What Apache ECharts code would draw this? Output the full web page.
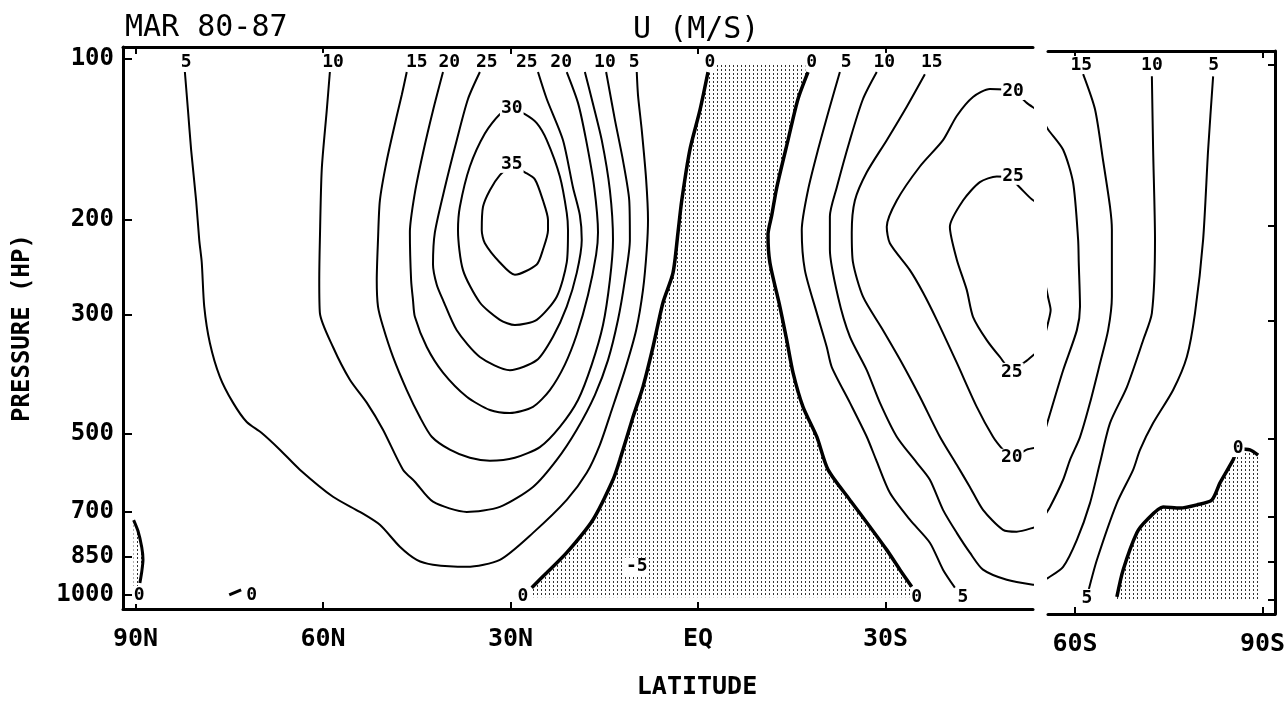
<!DOCTYPE html>
<html><head><meta charset="utf-8">
<script src="https://cdn.jsdelivr.net/npm/echarts@6/dist/echarts.min.js"></script>
<style>html,body{margin:0;padding:0;background:#fff}#c{width:1285px;height:702px}</style>
</head><body><div id="c"></div>
<script>
// ---------- DATA (latitude: +N / -S, pressure in hPa) ----------
const latTicksLeft = [90, 60, 30, 0, -30];
const latTicksRight = [-60, -90];
const pressureTicks = [100, 200, 300, 500, 700, 850, 1000];

// Northern hemisphere jet contours (m/s)
const u5N = [[82.1,106],[81.6,125],[81.1,148],[80.3,184],[79.8,218],[79.4,240],[79.0,290],[78.1,339],[76.5,392],[74.4,438],[72.2,476],[69.8,499],[66.9,536],[63.7,584],[58.4,656],[54.1,700],[50.9,740],[47.7,813],[45.0,860],[42.4,878],[37.0,886],[31.7,860],[26.4,766],[21.0,665],[17.8,592],[15.7,525],[13.8,452],[11.7,381],[9.9,321],[8.8,270],[8.2,227],[8.0,200],[8.3,168],[9.0,136],[9.6,117],[9.8,106]];
const u10N = [[58.9,106],[59.4,125],[60.2,161],[60.5,218],[60.6,259],[60.5,298],[58.4,345],[55.7,397],[53.0,438],[50.4,492],[47.2,584],[45.3,615],[42.4,670],[37.0,700],[31.7,685],[26.4,629],[22.6,560],[19.4,492],[16.5,424],[14.4,365],[12.8,307],[11.7,259],[10.9,218],[11.0,184],[12.0,155],[13.3,130],[14.2,114],[14.7,106]];
const u15N = [[46.6,106],[47.4,117],[48.2,128],[49.8,155],[50.9,184],[51.2,218],[51.4,259],[51.2,290],[50.4,316],[48.8,360],[46.6,415],[44.5,466],[42.6,507],[39.7,536],[36.5,555],[33.3,562],[29.3,555],[25.3,530],[22.1,486],[19.2,433],[17.0,372],[15.2,314],[14.1,259],[13.6,218],[14.1,176],[15.4,142],[17.0,119],[18.1,106]];
const u20N = [[40.8,106],[42.4,125],[44.0,150],[45.3,178],[46.1,211],[45.9,259],[45.6,282],[45.3,303],[43.4,345],[40.8,385],[37.0,427],[33.3,452],[30.1,458],[26.4,446],[23.7,415],[21.3,372],[19.4,327],[17.6,276],[16.3,232],[16.0,211],[16.6,174],[17.9,142],[19.2,121],[21.0,106]];
const u25N = [[34.9,106],[36.8,119],[38.6,142],[40.5,174],[42.1,211],[42.4,242],[41.8,264],[40.8,282],[38.6,321],[34.9,360],[30.1,381],[25.8,365],[23.2,330],[21.0,290],[19.4,251],[18.6,218],[18.9,196],[20.0,174],[21.6,142],[24.2,119],[25.6,106]];
const u30N = [[29.8,124],[31.7,127],[34.1,138],[36.5,159],[38.1,189],[38.4,209],[37.6,248],[34.9,285],[31.7,307],[29.3,314],[25.8,307],[22.6,278],[21.0,240],[20.8,209],[21.0,194],[22.1,166],[24.2,142],[25.8,132],[27.7,127],[29.8,124]];
const u35N = [[29.8,158],[31.7,165],[33.3,176],[34.4,189],[34.6,209],[34.1,221],[31.7,240],[29.3,253],[25.8,242],[24.8,227],[24.0,209],[24.0,200],[24.8,184],[26.1,168],[27.7,163],[29.8,158]];

// zero lines (easterly region between them)
const u0North = [[-1.6,106],[-0.3,125],[1.3,148],[2.6,184],[3.2,211],[4.0,251],[5.6,285],[7.2,345],[8.8,409],[10.4,466],[12.5,560],[13.6,610],[16.8,724],[21.0,834],[24.2,909],[26.6,969]];
const u0South = [[-17.6,106],[-16.0,119],[-14.4,142],[-12.6,174],[-11.8,196],[-11.2,213],[-11.5,240],[-13.1,290],[-14.2,335],[-15.2,385],[-16.8,446],[-19.0,507],[-20.8,584],[-24.3,665],[-27.5,746],[-30.2,824],[-32.3,897],[-34.2,965]];
const u0Pole = [[90.3,725],[89.6,760],[89.0,815],[88.8,860],[89.0,905],[89.3,950]];
const u0Arctic = [[75.0,1000],[73.1,978]];

// Southern hemisphere contours, left panel
const u5S = [[-22.7,106],[-21.1,123],[-19.2,148],[-17.6,176],[-16.6,209],[-17.1,248],[-19.0,298],[-20.6,345],[-21.4,376],[-24.3,438],[-27.0,507],[-28.5,560],[-30.7,645],[-33.9,724],[-37.1,799],[-39.2,897],[-41.1,969]];
const u10S = [[-28.6,106],[-26.4,119],[-24.3,142],[-22.2,174],[-21.1,197],[-21.1,227],[-22.4,278],[-24.3,330],[-27.0,381],[-29.1,438],[-31.8,507],[-34.9,565],[-37.1,610],[-39.2,694],[-41.4,766],[-43.5,834],[-45.6,897],[-49.4,937],[-53.6,957],[-55.5,960]];
const u15S = [[-36.3,107],[-33.4,123],[-30.2,142],[-27.0,163],[-25.1,184],[-24.6,211],[-24.8,240],[-26.4,278],[-29.6,321],[-32.6,369],[-35.5,427],[-38.7,507],[-41.4,572],[-43.5,629],[-45.6,694],[-48.8,756],[-51.0,762],[-54.2,746],[-55.5,740]];
const u20S = [[-55.5,129],[-54.7,126],[-52.6,121],[-50.4,115],[-46.7,114],[-44.0,118],[-41.4,128],[-39.2,142],[-35.5,159],[-31.8,184],[-30.2,206],[-30.7,221],[-33.9,248],[-36.0,273],[-38.2,307],[-41.4,369],[-44.6,446],[-47.2,507],[-48.8,536],[-50.2,555],[-52.6,536],[-54.7,530],[-55.5,528]];
const u25S = [[-55.5,190],[-54.7,187],[-53.4,183],[-51.5,174],[-49.9,167],[-47.8,166],[-45.1,170],[-42.4,184],[-40.3,206],[-41.4,237],[-43.0,270],[-44.0,303],[-46.2,335],[-48.3,360],[-50.2,381],[-52.3,368],[-54.7,349],[-55.5,345]];

// right panel (high southern latitudes)
const r20S = [[-54.9,127],[-55.7,132],[-58.1,144],[-59.7,166],[-60.5,212],[-60.6,234],[-60.8,283],[-60.3,313],[-58.1,372],[-55.7,461],[-54.9,496]];
const r25S = [[-54.9,245],[-55.7,272],[-56.1,287],[-55.7,303],[-54.9,330]];
const r15S = [[-61.3,104],[-63.2,121],[-64.5,151],[-65.6,184],[-65.9,203],[-65.9,271],[-65.3,313],[-64.0,361],[-62.4,428],[-60.8,496],[-59.2,547],[-58.1,596],[-56.0,670],[-54.9,702]];
const r10S = [[-72.3,105],[-72.5,144],[-72.8,212],[-72.3,291],[-70.9,327],[-68.3,400],[-65.6,467],[-64.0,554],[-62.4,659],[-60.3,772],[-58.1,867],[-55.7,909],[-54.9,917]];
const r5S = [[-82.1,105],[-81.3,144],[-80.5,212],[-79.2,291],[-77.9,351],[-75.7,405],[-72.5,467],[-70.4,524],[-69.3,571],[-66.7,659],[-63.5,842],[-62.1,966]];
const r0S = [[-66.7,987],[-67.7,879],[-69.9,749],[-71.5,709],[-74.1,670],[-76.8,673],[-79.5,664],[-81.9,650],[-83.2,604],[-85.3,547],[-86.1,522],[-88.0,524],[-89.3,536]];

// contour labels [text, lat, pressure]
const labelsLeft = [
  ['5',81.9,101.5],['10',58.4,101.5],['15',45.0,101.5],['20',39.8,101.5],['25',33.8,101.5],
  ['25',27.4,101.5],['20',21.9,101.5],['10',14.9,101.5],['5',10.2,101.5],['0',-1.9,101.5],
  ['0',-18.2,101.5],['5',-23.7,101.5],['10',-29.8,101.5],['15',-37.4,101.5],
  ['30',29.8,123.7],['35',29.8,157.2],['20',-50.4,115],['25',-50.4,165.5],['25',-50.2,383.8],
  ['20',-50.2,555],['-5',9.8,886],
  ['0',89.4,1000],['0',71.4,1000],['0',28.0,1004],['0',-35.0,1008],['5',-42.4,1008]
];
const labelsRight = [['15',-61.0,100],['10',-72.3,100],['5',-82.2,100],['0',-86.1,520],['5',-61.9,991]];

// ---------- CHART ----------
const FONT = 'DejaVu Sans Mono';
const stippleCanvas = (function(){
  const c = document.createElement('canvas'); c.width = 4; c.height = 4;
  const g = c.getContext('2d'); g.fillStyle = '#333'; g.fillRect(1,1,1,2);
  return c;
})();

function lineS(data, xi, yi, w){
  return {type:'line', xAxisIndex:xi, yAxisIndex:yi, data:data, showSymbol:false, symbol:'none',
    smooth:0.25, lineStyle:{color:'#000', width:w}, silent:true, z:2, animation:false};
}
function polyS(pts, xi, yi){
  return {type:'custom', xAxisIndex:xi, yAxisIndex:yi, data:[pts[0]], silent:true, z:1, animation:false,
    renderItem:function(params, api){
      return {type:'polygon', shape:{points: pts.map(function(p){return api.coord(p);})},
        style:{fill:{image:stippleCanvas, repeat:'repeat'}, stroke:null}};
    }};
}
function labelS(list, xi, yi){
  return {type:'custom', xAxisIndex:xi, yAxisIndex:yi, silent:true, z:5, animation:false,
    data:list.map(function(l){return [l[1], l[2]];}),
    renderItem:function(params, api){
      const pt = api.coord([api.value(0), api.value(1)]);
      return {type:'text', x:pt[0], y:pt[1],
        style:{text:list[params.dataIndex][0], fill:'#000', fontFamily:FONT, fontWeight:'bold', fontSize:18,
          align:'center', verticalAlign:'middle', backgroundColor:'#fff', padding:[0,1]}};
    }};
}

const polyEq = u0North.concat([[26.6,1010],[-34.2,1010]], u0South.slice().reverse(), [[-17.6,102],[-1.6,102]]);
const polyPole = u0Pole.concat([[89.3,1000],[90.3,1000]]);
const polySouth = r0S.concat([[-89.3,1000],[-66.7,1000]]);

const fmtLat = function(v){ return v === 0 ? 'EQ' : Math.abs(v) + (v > 0 ? 'N' : 'S'); };
const axLine = {onZero:false, lineStyle:{color:'#000', width:3}};
function xAx(grid, pos, min, max, ticks, showLabel){
  return {gridIndex:grid, type:'value', position:pos, inverse:true, min:min, max:max,
    axisLine:axLine,
    axisTick:{show:true, inside:true, length:7, customValues:ticks, lineStyle:{color:'#000', width:2}},
    axisLabel:{show:showLabel, customValues:ticks, formatter:fmtLat, color:'#000', fontFamily:FONT, fontWeight:'bold', fontSize:25, margin:18},
    splitLine:{show:false}};
}

const chart = echarts.init(document.getElementById('c'), null, {renderer:'canvas'});
chart.setOption({
  animation:false,
  backgroundColor:'#fff',
  grid:[
    {left:123, top:47, width:910, height:562, outerBoundsMode:'none', containLabel:false},
    {left:1048, top:51, width:227, height:563, outerBoundsMode:'none', containLabel:false}
  ],
  xAxis:[
    xAx(0,'bottom',-53.6,92,latTicksLeft,true),
    xAx(0,'top',-53.6,92,latTicksLeft,false),
    xAx(1,'bottom',-92,-55.68,latTicksRight,true),
    xAx(1,'top',-92,-55.68,latTicksRight,false)
  ],
  yAxis:[
    {gridIndex:0, type:'log', inverse:true, min:95.2, max:1062, position:'left', axisLine:axLine,
     axisTick:{inside:true, length:9, customValues:pressureTicks, lineStyle:{color:'#000', width:2}},
     axisLabel:{customValues:pressureTicks, formatter:function(v){return String(Math.round(v));}, color:'#000', fontFamily:FONT, fontWeight:'bold', fontSize:24, margin:9},
     splitLine:{show:false}},
    {gridIndex:1, type:'log', inverse:true, min:94.15, max:1062.1, position:'right', axisLine:axLine,
     axisTick:{inside:true, length:7, customValues:pressureTicks, lineStyle:{color:'#000', width:2}},
     axisLabel:{show:false}, splitLine:{show:false}}
  ],
  graphic:[
    {type:'text', x:125, y:28, style:{text:'MAR 80-87', fontFamily:FONT, fontSize:30, fill:'#000', align:'left', verticalAlign:'middle'}},
    {type:'text', x:633, y:30, style:{text:'U (M/S)', fontFamily:FONT, fontSize:30, fill:'#000', align:'left', verticalAlign:'middle'}},
    {type:'text', x:697, y:687, style:{text:'LATITUDE', fontFamily:FONT, fontWeight:'bold', fontSize:25, fill:'#000', align:'center', verticalAlign:'middle'}},
    {type:'text', x:23, y:328, rotation:Math.PI/2, style:{text:'PRESSURE (HP)', fontFamily:FONT, fontWeight:'bold', fontSize:24, fill:'#000', align:'center', verticalAlign:'middle'}}
  ],
  series:[
    polyS(polyEq,0,0), polyS(polyPole,0,0), polyS(polySouth,2,1),
    lineS(u5N,0,0,2), lineS(u10N,0,0,2), lineS(u15N,0,0,2), lineS(u20N,0,0,2),
    lineS(u25N,0,0,2), lineS(u30N,0,0,2), lineS(u35N,0,0,2),
    lineS(u0North,0,0,3.5), lineS(u0South,0,0,3.5), lineS(u0Pole,0,0,3), lineS(u0Arctic,0,0,3),
    lineS(u5S,0,0,2), lineS(u10S,0,0,2), lineS(u15S,0,0,2), lineS(u20S,0,0,2), lineS(u25S,0,0,2),
    lineS(r20S,2,1,2), lineS(r25S,2,1,2), lineS(r15S,2,1,2), lineS(r10S,2,1,2), lineS(r5S,2,1,2),
    lineS(r0S,2,1,3.5),
    labelS(labelsLeft,0,0), labelS(labelsRight,2,1)
  ]
});
</script>
</body></html>
